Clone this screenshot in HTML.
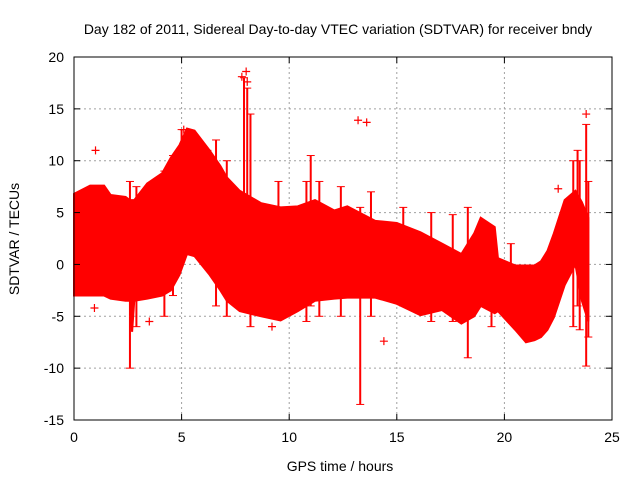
<!DOCTYPE html>
<html><head><meta charset="utf-8"><style>
body{margin:0;background:#fff;}
svg text{font-family:"Liberation Sans",sans-serif;font-size:14px;fill:#000;}
</style></head><body>
<svg id="c" width="640" height="480" xmlns="http://www.w3.org/2000/svg">
<rect width="640" height="480" fill="#fff"/>
<text x="338" y="34" text-anchor="middle">Day 182 of 2011, Sidereal Day-to-day VTEC variation (SDTVAR) for receiver bndy</text>
<text transform="translate(19,239) rotate(-90)" text-anchor="middle">SDTVAR / TECUs</text>
<text x="340" y="471" text-anchor="middle">GPS time / hours</text>
<g id="grid"></g><g id="data"></g><g id="axes"></g>
</svg>
<script>
const xTicks=[0,5,10,15,20,25];
const yTicks=[20,15,10,5,0,-5,-10,-15];
const times=[0,0.75,1.4,1.7,2.4,2.6,2.7,2.8,3.4,4.1,4.5,4.9,5.25,5.6,6.3,6.8,7.1,7.7,8.7,9.6,10.4,11.2,12.1,12.7,14,15,16.1,17.1,18,18.6,18.9,19.55,19.7,20.5,21,21.4,21.7,22,22.3,22.8,23.3,23.6,23.9];
const upper=[6.8,7.6,7.6,6.7,6.5,6.2,6.2,6.2,7.8,8.8,10.3,11.5,13.1,12.9,11,9.5,8.4,7.1,5.9,5.5,5.6,6.2,5.2,5.6,4.2,4,3.1,2,1,3,4.5,3.6,0.6,-0.1,-0.1,-0.1,0.3,1.3,3,6.2,7.1,6,4.5];
const lower=[-3,-3,-3,-3.3,-3.5,-3.5,-6.5,-3.5,-3.3,-3,-2.5,-1,1,0.8,-1,-2.5,-3.5,-4.5,-5,-5.4,-4.5,-3.5,-3.3,-3.2,-3.2,-3.8,-4.9,-4.4,-5.7,-5,-4,-4.7,-4.5,-6.3,-7.5,-7.3,-7,-6.3,-5.1,-2,0,-3.5,-5.5];
const spikeT=[2.6,2.9,4.2,4.6,5,5.8,6.2,6.6,7.1,7.9,8.05,8.2,9.5,10.8,11,11.4,12.4,13.3,13.8,15.3,16.6,17.6,18.3,19.4,20.3,23.2,23.4,23.5,23.8,23.9];
const spikeMin=[-10,-6,-5,-3,2,1,2,-4,-5,0,0,-6,-5,-5.5,-4,-5,-5,-13.5,-5,-4,-5.5,-5.5,-9,-6,-5.5,-6,-4,-6.3,-9.8,-7];
const spikeMax=[8,7.5,9,10.5,13,11,11,12,10,18,17,14.5,8,8,10.5,8,7.5,5.5,7,5.5,5,4.8,5.5,3,2,10,11,10,13.5,8];
const outX=[1,7.8,8,8.05,13.2,13.6,23.8,22.5,14.4,0.95,5.1,2,3.5,9.2];
const outY=[11,18.1,18.6,17.6,13.9,13.7,14.5,7.3,-7.4,-4.2,13,-2.5,-5.5,-6];
const X0=74,X1=612,Y0=420,Y1=57;
const sx=v=>X0+(v/25)*(X1-X0);
const sy=v=>Y0-((v+15)/35)*(Y0-Y1);
const NS="http://www.w3.org/2000/svg";
function mk(t,a,p){const e=document.createElementNS(NS,t);for(const k in a)e.setAttribute(k,a[k]);p.appendChild(e);return e;}
const G=document.getElementById('grid'),D=document.getElementById('data'),A=document.getElementById('axes');
xTicks.forEach(v=>{
 if(v>0&&v<25){const l=mk('line',{x1:sx(v),x2:sx(v),y1:Y1,y2:Y0,stroke:'#a0a0a0','stroke-dasharray':'2,3'},G);
 
 }
 const t=mk('text',{x:sx(v),y:Y0+22,'text-anchor':'middle'},A);t.textContent=v;
 
 
 mk('line',{x1:sx(v),x2:sx(v),y1:Y0,y2:Y0-6,stroke:'#000'},A);
 mk('line',{x1:sx(v),x2:sx(v),y1:Y1,y2:Y1+6,stroke:'#000'},A);
});
yTicks.forEach(v=>{
 if(v>-15&&v<20){const l=mk('line',{x1:X0,x2:X1,y1:sy(v),y2:sy(v),stroke:'#a0a0a0','stroke-dasharray':'2,3'},G);
 
 }
 const t=mk('text',{x:X0-10,y:sy(v)+5,'text-anchor':'end'},A);t.textContent=v;
 
 
 mk('line',{x1:X0,x2:X0+6,y1:sy(v),y2:sy(v),stroke:'#000'},A);
 mk('line',{x1:X1,x2:X1-6,y1:sy(v),y2:sy(v),stroke:'#000'},A);
});
let pts=times.map((t,i)=>sx(t)+','+sy(upper[i]));
for(let i=times.length-1;i>=0;i--)pts.push(sx(times[i])+','+sy(lower[i]));
const band=mk('polygon',{points:pts.join(' '),fill:'#ff0000',stroke:'#ff0000','stroke-width':2},D);


spikeT.forEach((t,i)=>{
 const l=mk('line',{x1:sx(t),x2:sx(t),y1:sy(spikeMin[i]),y2:sy(spikeMax[i]),stroke:'#ff0000','stroke-width':2},D);
 
 
 mk('line',{x1:sx(t)-4,x2:sx(t)+4,y1:sy(spikeMin[i]),y2:sy(spikeMin[i]),stroke:'#ff0000'},D);
 mk('line',{x1:sx(t)-4,x2:sx(t)+4,y1:sy(spikeMax[i]),y2:sy(spikeMax[i]),stroke:'#ff0000'},D);
});
outX.forEach((t,i)=>{
 const g=mk('path',{d:`M${sx(t)-4},${sy(outY[i])}h8M${sx(t)},${sy(outY[i])-4}v8`,stroke:'#ff0000','stroke-width':1.2},D);
 
 
});
const fr=mk('rect',{x:X0,y:Y1,width:X1-X0,height:Y0-Y1,fill:'none',stroke:'#000'},A);


</script>
</body></html>
